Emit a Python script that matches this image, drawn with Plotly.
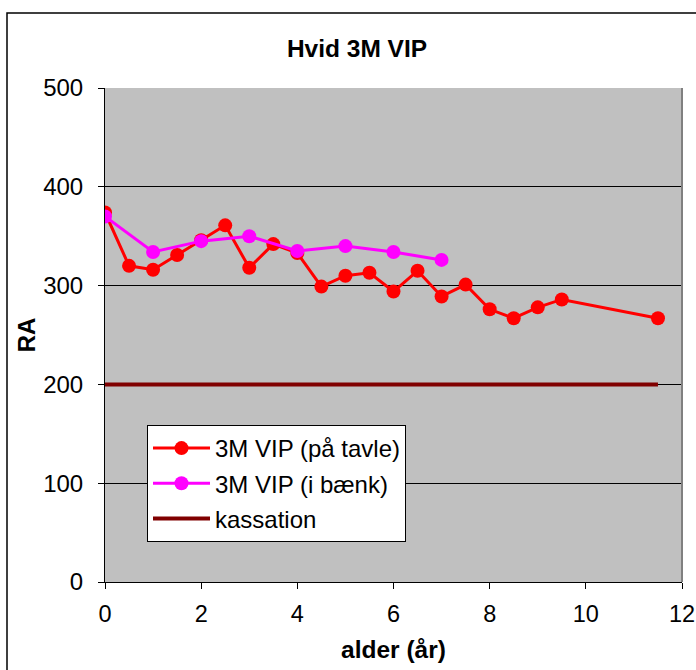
import plotly.graph_objects as go

# Data
x_tavle = [0, 0.5, 1, 1.5, 2, 2.5, 3, 3.5, 4, 4.5, 5, 5.5, 6, 6.5, 7, 7.5, 8, 8.5, 9, 9.5, 11.5]
y_tavle = [374, 320, 316, 331, 346, 361, 318, 342, 333, 299, 310, 313, 294, 315, 289, 301, 276, 267, 278, 286, 267]
x_baenk = [0, 1, 2, 3, 4, 5, 6, 7]
y_baenk = [370, 334, 345, 350, 335, 340, 334, 326]
x_kass = [0, 11.5]
y_kass = [200, 200]
names = ["3M VIP (på tavle)", "3M VIP (i bænk)", "kassation"]
x_ticks = [0, 2, 4, 6, 8, 10, 12]
y_ticks = [0, 100, 200, 300, 400, 500]

FONT = "Liberation Sans, Arial, sans-serif"

fig = go.Figure()
fig.add_trace(go.Scatter(x=x_tavle, y=y_tavle, name=names[0], mode="lines+markers",
                         line=dict(color="#FF0000", width=3),
                         marker=dict(color="#FF0000", size=14), legendgroup="a"))
fig.add_trace(go.Scatter(x=x_baenk, y=y_baenk, name=names[1], mode="lines+markers",
                         line=dict(color="#FF00FF", width=3),
                         marker=dict(color="#FF00FF", size=14), legendgroup="b"))
fig.add_trace(go.Scatter(x=x_kass, y=y_kass, name=names[2], mode="lines",
                         line=dict(color="#800000", width=4), legendgroup="c"))

L, R, T, B = 105, 14, 88, 88
PW, PH = 696 - L - R, 670 - T - B

fig.update_layout(
    width=696, height=670,
    margin=dict(l=L, r=R, t=T, b=B, autoexpand=False),
    paper_bgcolor="white", plot_bgcolor="#C0C0C0",
    font=dict(family=FONT, color="black"),
    title=dict(text="<b>Hvid 3M VIP</b>", x=(357 / 696), xanchor="center",
               y=1 - 48 / 670, yanchor="middle", font=dict(size=24.5)),
    showlegend=True,
    legend=dict(x=(147 - L) / PW, y=(582 - 425) / PH, xanchor="left", yanchor="top",
                bgcolor="white", bordercolor="black", borderwidth=1,
                font=dict(size=24), tracegroupgap=1, traceorder="grouped",
                itemwidth=57),
    xaxis=dict(range=[0, 12], tickvals=x_ticks, ticks="outside", ticklen=6,
               tickcolor="black", showgrid=False, zeroline=False,
               showline=True, linecolor="black", linewidth=1,
               tickfont=dict(size=23.5), ticklabeloverflow="allow",
               ticklabelstandoff=5, automargin=False,
               title=dict(text="<b>alder (år)</b>", font=dict(size=24.5), standoff=14)),
    yaxis=dict(range=[0, 500], tickvals=y_ticks, ticks="outside", ticklen=6,
               tickcolor="black", showgrid=True, gridcolor="black", gridwidth=1,
               zeroline=False, showline=True, linecolor="black", linewidth=1,
               tickfont=dict(size=24), ticklabelstandoff=10, automargin=False,
               title=dict(text="<b>RA</b>", font=dict(size=24), standoff=0)),
)

# plot area right border (gray) and outer chart border
fig.add_shape(type="line", xref="paper", yref="paper", x0=1, x1=1, y0=0, y1=1,
              line=dict(color="#808080", width=2))
fig.add_shape(type="rect", xref="paper", yref="paper",
              x0=(7 - L) / PW, x1=1.2, y0=-0.3, y1=(582 - 13) / PH,
              line=dict(color="black", width=1.5), layer="below")

fig.write_html("out.html")
